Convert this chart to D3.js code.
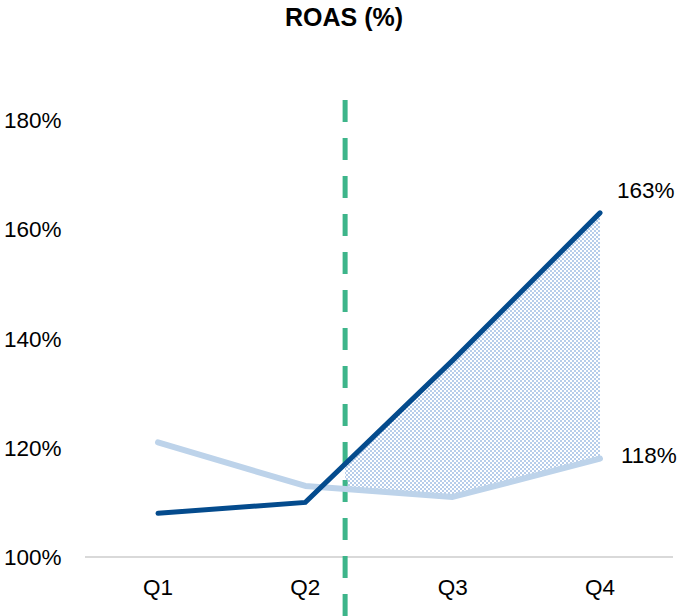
<!DOCTYPE html>
<html><head><meta charset="utf-8">
<script src="https://cdn.jsdelivr.net/npm/d3@7"></script>
<style>
html,body{margin:0;padding:0;background:#fff;}
svg{display:block;font-family:"Liberation Sans",Arial,sans-serif;}
</style></head>
<body><svg id="c" width="681" height="616"></svg>
<script>
const categories = ["Q1","Q2","Q3","Q4"];
const seriesMain = [108, 110, 136, 163];
const seriesBase = [121, 113, 111, 118];
const yTicks = [100, 120, 140, 160, 180];
const markerIndex = 1.27; // dashed divider between Q2 and Q3
const title = "ROAS (%)";

const svg = d3.select("#c");
const x = d3.scaleLinear().domain([0, 3]).range([158, 600]);
const y = d3.scaleLinear().domain([100, 180]).range([557, 120]);

// pattern
const defs = svg.append("defs");
const pat = defs.append("pattern").attr("id","chk").attr("patternUnits","userSpaceOnUse")
  .attr("width",4).attr("height",4);
pat.append("rect").attr("x",0).attr("y",0).attr("width",2).attr("height",2).attr("fill","#b7cdea");
pat.append("rect").attr("x",2).attr("y",2).attr("width",2).attr("height",2).attr("fill","#b7cdea");
defs.append("clipPath").attr("id","clipR").append("rect")
  .attr("x", x(markerIndex)).attr("y", 0).attr("width", x(3) - x(markerIndex)).attr("height", 616);

// title
svg.append("text").attr("x", 344).attr("y", 26).attr("text-anchor","middle")
  .attr("font-size", 25).attr("font-weight","bold").attr("fill","#000").text(title);

// baseline gridline
svg.append("line").attr("x1", 85).attr("x2", 673).attr("y1", y(100)).attr("y2", y(100))
  .attr("stroke","#d9d9d9").attr("stroke-width",2);

// y labels
svg.selectAll(".yl").data(yTicks).enter().append("text")
  .attr("x", 4).attr("y", d => y(d) + 8).attr("font-size", 22.5).attr("fill","#000")
  .text(d => d + "%");

// x labels
svg.selectAll(".xl").data(categories).enter().append("text")
  .attr("x", (d,i) => x(i)).attr("y", 595).attr("text-anchor","middle")
  .attr("font-size", 22.5).attr("fill","#000").text(d => d);

// hatched area
const idx = d3.range(categories.length);
const area = d3.area().x(i => x(i)).y0(i => y(seriesBase[i])).y1(i => y(seriesMain[i]));
svg.append("path").datum(idx).attr("d", area).attr("fill","url(#chk)").attr("clip-path","url(#clipR)");

// dashed marker
svg.append("line").attr("x1", x(markerIndex)).attr("x2", x(markerIndex)).attr("y1", 100).attr("y2", 616)
  .attr("stroke","#3db58a").attr("stroke-width",5).attr("stroke-dasharray","22 16");

// lines
const line = d3.line().x((d,i) => x(i)).y(d => y(d));
svg.append("path").datum(seriesBase).attr("d", line).attr("fill","none")
  .attr("stroke","#bdd3ea").attr("stroke-width",6).attr("stroke-linecap","round").attr("stroke-linejoin","round");
svg.append("path").datum(seriesMain).attr("d", line).attr("fill","none")
  .attr("stroke","#044b8d").attr("stroke-width",5).attr("stroke-linecap","round").attr("stroke-linejoin","miter");

// end labels
svg.append("text").attr("x", x(3) + 17).attr("y", y(163) - 15).attr("font-size", 22.5).attr("fill","#000").text(seriesMain[3] + "%");
svg.append("text").attr("x", x(3) + 21).attr("y", y(118) + 4).attr("font-size", 22.5).attr("fill","#000").text(seriesBase[3] + "%");
</script></body></html>
